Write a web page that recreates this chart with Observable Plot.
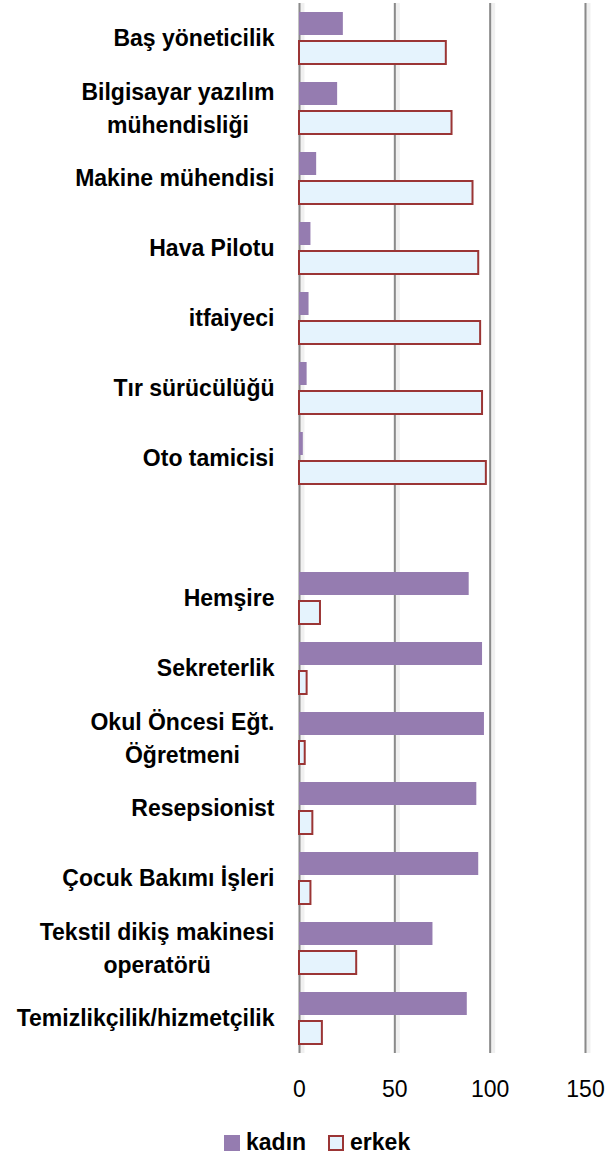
<!DOCTYPE html>
<html>
<head>
<meta charset="utf-8">
<script src="https://cdn.jsdelivr.net/npm/d3@7"></script>
<script src="https://cdn.jsdelivr.net/npm/@observablehq/plot@0.6"></script>
<style>
  body { margin: 0; background: #fff; font-family: "Liberation Sans", Arial, sans-serif; }
  #chart svg { display: block; }
  .legend { display: flex; align-items: center; padding-left: 224px; padding-top: 14px; font-weight: bold; font-size: 23px; color: #000; }
  .legend .sw { width: 16px; height: 16px; box-sizing: border-box; margin-right: 6px; }
  .legend .item { display: flex; align-items: center; margin-right: 22px; }
</style>
</head>
<body>
<div id="chart"></div>
<div class="legend">
  <div class="item"><div class="sw" style="background:#957CB0"></div><span id="lk"></span></div>
  <div class="item"><div class="sw" style="background:#E5F3FD;border:2px solid #9B3535"></div><span id="le"></span></div>
</div>
<script>
const categories = [
  "Baş yöneticilik",
  "Bilgisayar yazılım\nmühendisliği",
  "Makine mühendisi",
  "Hava Pilotu",
  "itfaiyeci",
  "Tır sürücülüğü",
  "Oto tamicisi",
  " ",
  "Hemşire",
  "Sekreterlik",
  "Okul Öncesi Eğt.\nÖğretmeni",
  "Resepsionist",
  "Çocuk Bakımı İşleri",
  "Tekstil dikiş makinesi\noperatörü",
  "Temizlikçilik/hizmetçilik"
];
const series = ["kadın", "erkek"];
const kadin = [23, 20, 9, 6, 5, 4, 2, null, 89, 96, 97, 93, 94, 70, 88];
const erkek = [77, 80, 91, 94, 95, 96, 98, null, 11, 4, 3, 7, 6, 30, 12];
const xTicks = [0, 50, 100, 150];

document.getElementById("lk").textContent = series[0];
document.getElementById("le").textContent = series[1];

const rows = [];
categories.forEach((c, i) => {
  if (kadin[i] != null) rows.push({cat: c, series: series[0], value: kadin[i]});
  if (erkek[i] != null) rows.push({cat: c, series: series[1], value: erkek[i]});
});
// one grid rule per tick and per category, so that the empty slot keeps its grid
const gridRows = categories.flatMap(c => xTicks.map(t => ({cat: c, t})));

const chart = Plot.plot({
  width: 609,
  height: 1115,
  marginLeft: 299,
  marginRight: 24,
  marginTop: 2,
  marginBottom: 61,
  style: {fontFamily: "'Liberation Sans', Arial, sans-serif", color: "#000"},
  fy: {domain: categories, padding: 0, label: null},
  y: {domain: series, paddingInner: 0.205, paddingOuter: 0.3, axis: null},
  x: {domain: [0, 150], label: null},
  marks: [
    Plot.ruleX(gridRows, {fy: "cat", x: "t", stroke: "#f0f0f0", strokeWidth: 6, dx: 2}),
    Plot.ruleX(gridRows, {fy: "cat", x: "t", stroke: "#8a8a8a", strokeWidth: 2}),
    Plot.barX(rows.filter(d => d.series === series[0]), {
      fy: "cat", y: "series", x: "value", fill: "#957CB0"
    }),
    Plot.barX(rows.filter(d => d.series === series[1]), {
      fy: "cat", y: "series", x: "value", fill: "#E5F3FD", stroke: "#9B3535", strokeWidth: 2
    }),
    Plot.axisX({ticks: xTicks, tickSize: 0, tickPadding: 27, fontSize: 23, label: null, facetAnchor: "bottom"}),
    Plot.axisFy({anchor: "left", tickSize: 0, tickPadding: 25, fontSize: 23, fontWeight: "bold", lineHeight: 1.45, dy: -3, label: null,
      tickFormat: d => d.trim() === "" ? "" : d})
  ]
});
document.getElementById("chart").appendChild(chart);

// center the lines of wrapped labels within their block (as in the original)
chart.querySelectorAll("text").forEach(t => {
  const spans = t.querySelectorAll("tspan");
  if (spans.length > 1) {
    let w = 0;
    spans.forEach(s => { w = Math.max(w, s.getComputedTextLength()); });
    t.setAttribute("text-anchor", "middle");
    spans.forEach(s => {
      const x0 = +(s.getAttribute("x") || 0);
      s.setAttribute("x", x0 - w / 2);
    });
  }
});
</script>
</body>
</html>
